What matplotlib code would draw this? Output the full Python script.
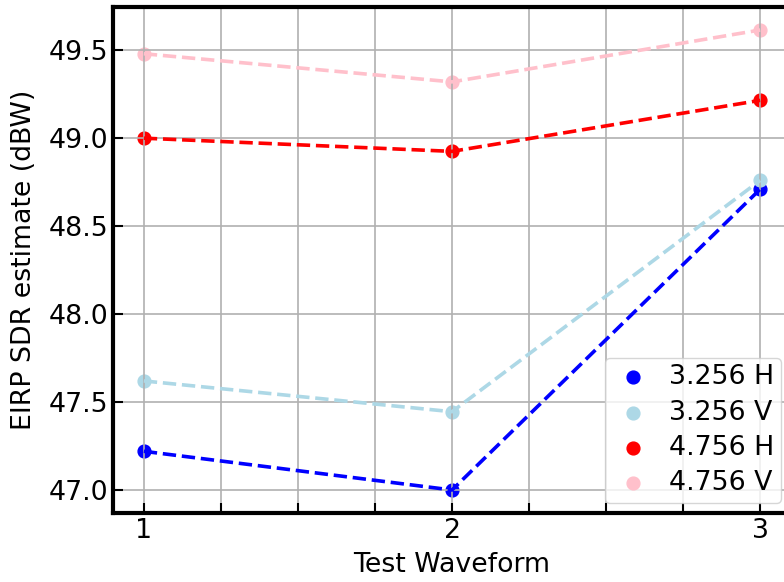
import numpy as np
import matplotlib
matplotlib.use("Agg")
import matplotlib.pyplot as plt
from matplotlib.ticker import MultipleLocator

waveforms = [1, 2, 3]
h3256 = [47.22, 47.00, 48.71]
v3256 = [47.62, 47.445, 48.76]
h4756 = [49.00, 48.925, 49.215]
v4756 = [49.48, 49.32, 49.615]

series = [
    ("3.256 H", h3256, "blue"),
    ("3.256 V", v3256, "lightblue"),
    ("4.756 H", h4756, "red"),
    ("4.756 V", v4756, "pink"),
]

fs = 19.3

fig = plt.figure(figsize=(7.84, 5.82), dpi=100)
ax = fig.add_axes([113 / 784, 1 - 513 / 582, 678 / 784, 506 / 582])

# scatter sits under the grid, dashed lines on top (default zorders)
for label, vals, col in series:
    ax.scatter(waveforms, vals, color=col, s=85, label=label)
    ax.plot(waveforms, vals, color=col, linestyle="--", linewidth=2.6)

ax.xaxis.set_major_locator(MultipleLocator(1))
ax.xaxis.set_minor_locator(MultipleLocator(0.25))
ax.grid(True, which="major", color="#b0b0b0", linewidth=1.2)
ax.grid(True, which="minor", axis="x", color="#b0b0b0", linewidth=1.2)
ax.tick_params(direction="in", which="both", length=7, width=1.5, labelsize=fs)
for sp in ax.spines.values():
    sp.set_linewidth(3)

ax.set_xlabel("Test Waveform", fontsize=fs, labelpad=6)
ax.set_ylabel("EIRP SDR estimate (dBW)", fontsize=fs, labelpad=8)
ax.legend(loc="lower right", fontsize=fs, borderpad=0.25, handlelength=1.6,
          handletextpad=0.55, labelspacing=0.35, borderaxespad=0.37)

fig.savefig("out.png", dpi=100)
